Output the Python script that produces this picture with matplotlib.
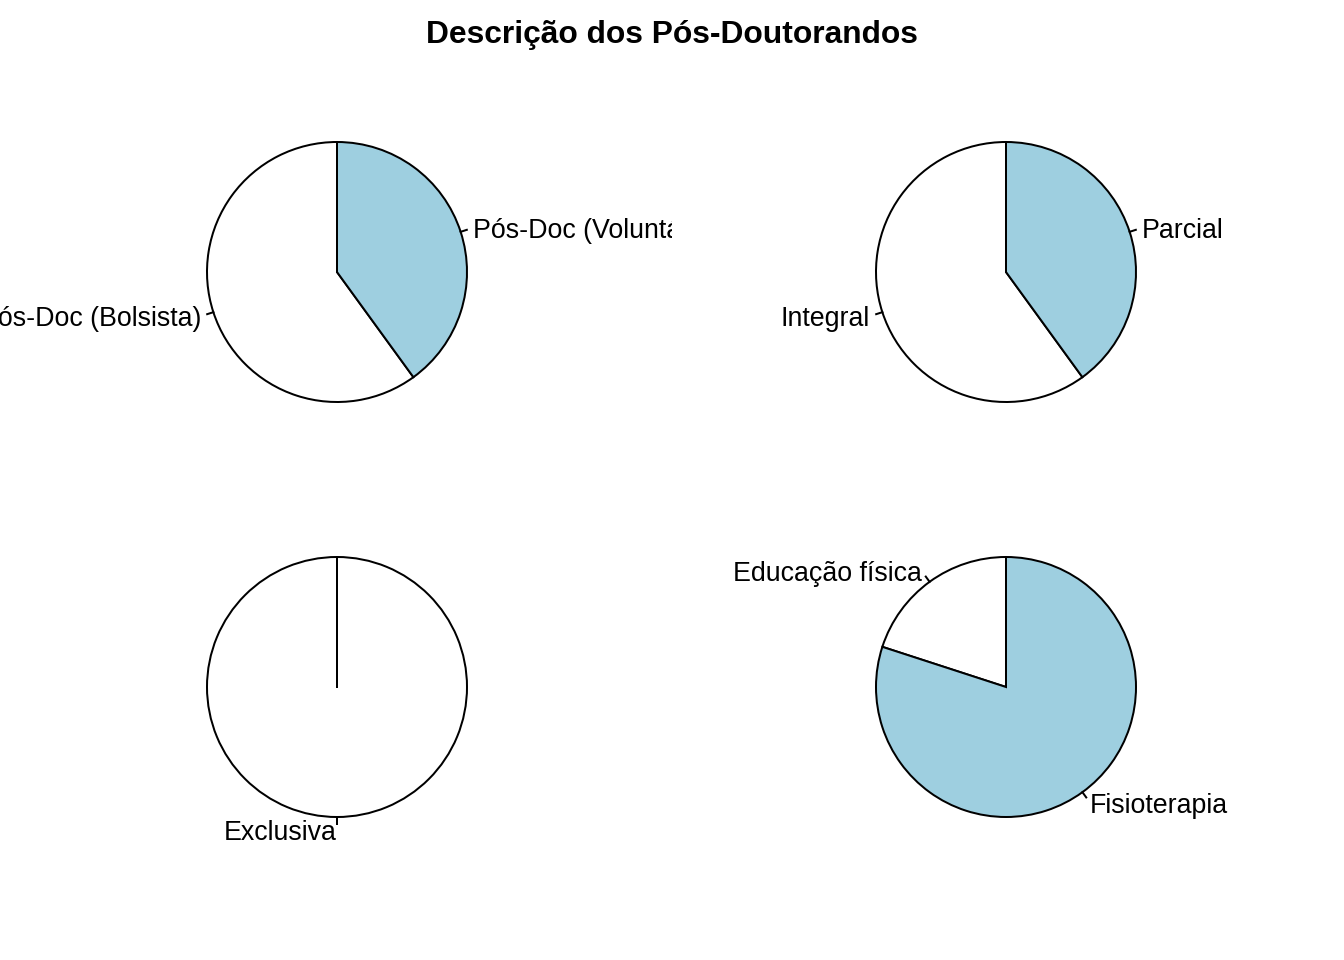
import numpy as np
import matplotlib
matplotlib.use("Agg")
import matplotlib.pyplot as plt

plt.rcParams['font.family'] = ['Liberation Sans', 'DejaVu Sans']

# counts per category (5 post-docs)
vinculo_labels = ['Pós-Doc (Bolsista)', 'Pós-Doc (Voluntário)']
vinculo_counts = [3, 2]
dedicacao_labels = ['Integral', 'Parcial']
dedicacao_counts = [3, 2]
exclusividade_labels = ['Exclusiva']
exclusividade_counts = [5]
area_labels = ['Educação física', 'Fisioterapia']
area_counts = [1, 4]

pie_colors = ['white', '#9ECFE0']

W, H = 1344, 960
fig = plt.figure(figsize=(W / 144, H / 144), dpi=144)

# panel cells in pixels: (left, top, width, height) and pie centre x offset
cells = [(0, 64.5, 672, 415, 1), (672, 64.5, 672, 415, -2),
         (0, 479.5, 672, 415, 1), (672, 479.5, 672, 415, -2)]
scale = 162.5  # pixels per data unit
radius = 0.8
start = 90

panels = [(vinculo_labels, vinculo_counts), (dedicacao_labels, dedicacao_counts),
          (exclusividade_labels, exclusividade_counts), (area_labels, area_counts)]

for (left, top, w, h, dx), (labels, counts) in zip(cells, panels):
    ax = fig.add_axes([left / W, 1 - (top + h) / H, w / W, h / H])
    ax.pie(counts, colors=pie_colors[:len(counts)], radius=radius,
           startangle=start, counterclock=True,
           wedgeprops=dict(edgecolor='black', linewidth=1.0))
    if len(counts) == 1:
        # R draws the radial edge even for a full circle
        t = np.deg2rad(start)
        ax.plot([0, radius * np.cos(t)], [0, radius * np.sin(t)], color='black', lw=1.0)
    fr = np.array(counts, dtype=float) / sum(counts)
    mids = start + 360 * (np.cumsum(fr) - fr / 2)
    for m, lab in zip(mids, labels):
        a = np.deg2rad(m)
        x, y = radius * np.cos(a), radius * np.sin(a)
        on_left = x < -1e-9 or (abs(x) <= 1e-9 and y < 0)
        ax.plot([x, 1.05 * x], [y, 1.05 * y], color='black', lw=1.0, clip_on=False)
        ax.text(1.1 * x, 1.1 * y, lab, fontsize=13.4,
                ha='right' if on_left else 'left', va='center_baseline', clip_on=True)
    ax.set_aspect('auto')
    ax.set_xlim((-w / 2 - dx) / scale, (w / 2 - dx) / scale)
    ax.set_ylim(-h / 2 / scale, h / 2 / scale)
    ax.axis('off')

fig.text(0.5, 1 - 35 / H, 'Descrição dos Pós-Doutorandos', ha='center', va='center',
         fontsize=15.9, fontweight='bold')

fig.savefig('out.png', dpi=144)
